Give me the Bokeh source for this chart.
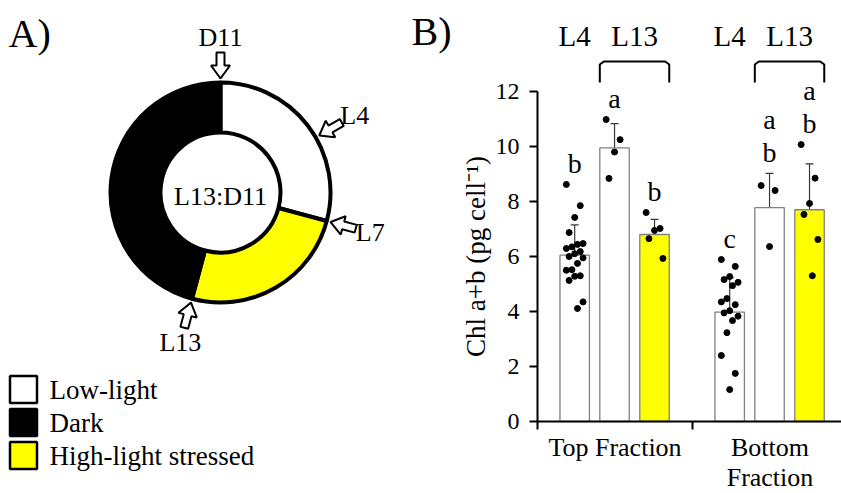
import numpy as np
from bokeh.plotting import figure
from bokeh.models import Range1d, FixedTicker, Whisker, TeeHead, ColumnDataSource
from bokeh.core.properties import value
from bokeh.embed import file_html
from bokeh.resources import INLINE

FONT = "Liberation Serif"

# ---------------- Panel A data ----------------
phase_names = ["Low-light", "High-light stressed", "Dark"]
phase_hours = [7, 6, 11]
phase_colors = ["#ffffff", "#ffff00", "#000000"]
marker_names = ["D11", "L4", "L7", "L13"]
marker_hours = [0, 4, 7, 13]
cycle_label = "L13:D11"
legend_names = ["Low-light", "Dark", "High-light stressed"]
legend_colors = ["#ffffff", "#000000", "#ffff00"]

# ---------------- Panel B data ----------------
fractions = ["Top Fraction", "Bottom\nFraction"]
series = ["L4", "L13 low-light", "L13 high-light"]
series_colors = ["#ffffff", "#ffffff", "#ffff00"]
top_means = [6.05, 9.95, 6.8]
bottom_means = [3.98, 7.78, 7.7]
top_sd = [1.1, 0.88, 0.55]
bottom_sd = [1.25, 1.24, 1.67]
top_dots_L4 = [8.62, 7.85, 7.42, 6.87, 6.47, 6.44, 6.35, 6.29, 6.18, 6.1,
               6.0, 5.95, 5.75, 5.52, 5.5, 5.3, 5.28, 5.13, 4.35, 4.11]
top_dots_L13 = [10.98, 10.25, 9.8, 8.84]
top_dots_HL = [7.6, 7.02, 6.95, 6.65, 5.93]
bottom_dots_L4 = [5.89, 5.64, 5.27, 5.16, 5.06, 4.94, 4.47, 4.35, 4.25, 4.03,
                  3.95, 3.83, 3.67, 3.23, 2.4, 1.75, 1.16]
bottom_dots_L13 = [8.58, 8.4, 6.36]
bottom_dots_HL = [10.07, 8.85, 7.93, 7.53, 6.62, 5.3]
top_letters = [["b"], ["a"], ["b"]]
bottom_letters = [["c"], ["a", "b"], ["a", "b"]]
y_ticks = [0, 2, 4, 6, 8, 10, 12]

# ---------------- layout (page pixels) ----------------
W, H = 841, 493
X0, Y0 = 537, 421          # page position of data origin of panel B
SX, SY = 155.0, 27.5       # pixels per data unit


def dx(page_x):
    return (page_x - X0) / SX


def dy(page_y):
    return (Y0 - page_y) / SY


p = figure(width=W, height=H, x_range=Range1d(dx(0), dx(W)), y_range=Range1d(dy(H), dy(0)),
           output_backend="svg", toolbar_location=None, min_border=0)
p.grid.visible = False
p.outline_line_color = None

# ================= Panel A =================
CX, CY = 220, 192  # ring centre (page px)
deg = 360.0 / sum(phase_hours)
cum = np.cumsum([0] + phase_hours)
start_angle = np.deg2rad(90 - cum[1:] * deg)
end_angle = np.deg2rad(90 - cum[:-1] * deg)
p.annular_wedge(x=dx(CX), y=dy(CY), inner_radius=60, outer_radius=110,
                inner_radius_units="screen", outer_radius_units="screen",
                start_angle=list(start_angle), end_angle=list(end_angle),
                fill_color=phase_colors, line_color="black", line_width=4,
                direction="anticlock")
p.text(x=[dx(CX)], y=[dy(CY + 4)], text=[cycle_label], text_font=value(FONT), text_font_size="26px",
       text_align="center", text_baseline="middle", text_color="black")

# hollow arrows pointing at the ring
theta = np.deg2rad(90 - np.array(marker_hours) * deg)
tip_r = 114
su = np.array([0, -13, -13, -26, -26, -13, -13])
sv = np.array([0, 9.5, 4, 4, -4, -4, -9.5])
axs, ays = [], []
for t in theta:
    ux, uy = -np.cos(t), -np.sin(t)
    vx, vy = -np.sin(t), np.cos(t)
    tx, ty = tip_r * np.cos(t), tip_r * np.sin(t)
    ox = tx + su * ux + sv * vx
    oy = ty + su * uy + sv * vy
    axs.append([dx(CX + a) for a in ox])
    ays.append([dy(CY - b) for b in oy])
p.patches(xs=axs, ys=ays, fill_color="white", line_color="black", line_width=2)
lab_r = 155
p.text(x=[dx(CX + lab_r * np.cos(t)) for t in theta], y=[dy(CY - lab_r * np.sin(t)) for t in theta],
       text=marker_names, text_font=value(FONT), text_font_size="26px", text_align="center",
       text_baseline="middle", text_color="black")

# legend
n = len(legend_names)
leg_py = [389 + 33 * i for i in range(n)]
p.rect(x=[dx(23)] * n, y=[dy(v) for v in leg_py], width=27, height=27,
       width_units="screen", height_units="screen", fill_color=legend_colors,
       line_color="black", line_width=2.5)
p.text(x=[dx(49)] * n, y=[dy(v) for v in leg_py], text=legend_names, text_font=value(FONT),
       text_font_size="27px", text_align="left", text_baseline="middle", text_color="black")

p.text(x=[dx(8), dx(411)], y=[dy(33), dy(31)], text=["A)", "B)"], text_font=value(FONT),
       text_font_size="40px", text_align="left", text_baseline="middle", text_color="black")

# ================= Panel B =================
offsets = [0.24, 0.497, 0.755]
bw = 0.19
means = [top_means, bottom_means]
sds = [top_sd, bottom_sd]
dots = [[top_dots_L4, top_dots_L13, top_dots_HL],
        [bottom_dots_L4, bottom_dots_L13, bottom_dots_HL]]
letters = [top_letters, bottom_letters]

bx, btop, bcol, up, lo = [], [], [], [], []
ptx, pty = [], []
lx, ly, lt = [], [], []
for g in range(len(fractions)):
    for s in range(len(series)):
        xc = g + offsets[s]
        m, sd = means[g][s], sds[g][s]
        bx.append(xc); btop.append(m); bcol.append(series_colors[s])
        up.append(m + sd); lo.append(m - sd)
        vals = dots[g][s]
        for k, v in enumerate(vals):
            ptx.append(xc + (((k * 5) % 7) - 3) * 0.018)
            pty.append(v)
        base = max(max(vals), m + sd) + 0.78
        lets = letters[g][s]
        for j, L in enumerate(lets):
            lx.append(xc)
            ly.append(base + (len(lets) - 1 - j) * 1.2)
            lt.append(L)

p.vbar(x=bx, top=btop, width=bw, bottom=0, fill_color=bcol, line_color="#808080", line_width=1.3)
wsrc = ColumnDataSource(dict(x=bx, upper=up, lower=lo))
wh = Whisker(base="x", upper="upper", lower="lower", source=wsrc,
             line_color="#3a3a3a", line_width=1.2,
             upper_head=TeeHead(size=8, line_color="#3a3a3a", line_width=1.2),
             lower_head=TeeHead(size=8, line_color="#3a3a3a", line_width=1.2))
p.add_layout(wh)
p.scatter(x=ptx, y=pty, size=6, fill_color="black", line_color="black")
p.text(x=lx, y=ly, text=lt, text_font=value(FONT), text_font_size="28px",
       text_align="center", text_baseline="middle", text_color="black")

# group header labels and brackets
hx, hy, ht, brx, bry = [], [], [], [], []
for g in range(len(fractions)):
    hx += [g + offsets[0], g + (offsets[1] + offsets[2]) / 2]
    hy += [dy(35), dy(35)]
    ht += ["L4", "L13"]
    x0 = g + offsets[1] - bw / 2
    x1 = g + offsets[2] + bw / 2
    r = 4 / SX
    brx.append([x0, x0, x0 + r, x1 - r, x1, x1])
    bry.append([dy(82), dy(64), dy(61), dy(61), dy(64), dy(82)])
p.text(x=hx, y=hy, text=ht, text_font=value(FONT), text_font_size="29px",
       text_align="center", text_baseline="middle", text_color="black")
p.multi_line(xs=brx, ys=bry, line_color="black", line_width=2, line_join="round")

# axes (placed at the data origin of panel B)
ya = p.yaxis[0]
ya.fixed_location = 0
ya.ticker = FixedTicker(ticks=y_ticks)
ya.bounds = (0, 12)
ya.axis_line_width = 2
ya.axis_line_color = "black"
ya.major_tick_line_width = 2
ya.major_tick_out = 8
ya.major_tick_in = 0
ya.minor_tick_line_color = None
ya.major_label_text_font = FONT
ya.major_label_text_font_size = "24px"
ya.major_label_text_color = "black"
ya.major_label_standoff = 10
ya.axis_label = "Chl a+b (pg cell\u207b\u00b9)"
ya.axis_label_text_font = FONT
ya.axis_label_text_font_size = "27px"
ya.axis_label_text_font_style = "normal"
ya.axis_label_text_color = "black"
ya.axis_label_standoff = 2

xa = p.xaxis[0]
xa.fixed_location = 0
xa.bounds = (0, 2)
xa.ticker = FixedTicker(ticks=[0.5, 1.5], minor_ticks=[0, 1, 2])
xa.major_label_overrides = {0.5: fractions[0], 1.5: fractions[1]}
xa.axis_line_width = 2
xa.axis_line_color = "black"
xa.major_tick_line_color = None
xa.major_tick_out = 0
xa.major_tick_in = 0
xa.minor_tick_line_color = "black"
xa.minor_tick_line_width = 2
xa.minor_tick_out = 8
xa.minor_tick_in = 0
xa.major_label_text_font = FONT
xa.major_label_text_font_size = "26px"
xa.major_label_text_color = "black"
xa.major_label_text_line_height = 1.05
xa.major_label_standoff = 3

open("out.html", "w").write(file_html(p, INLINE))
